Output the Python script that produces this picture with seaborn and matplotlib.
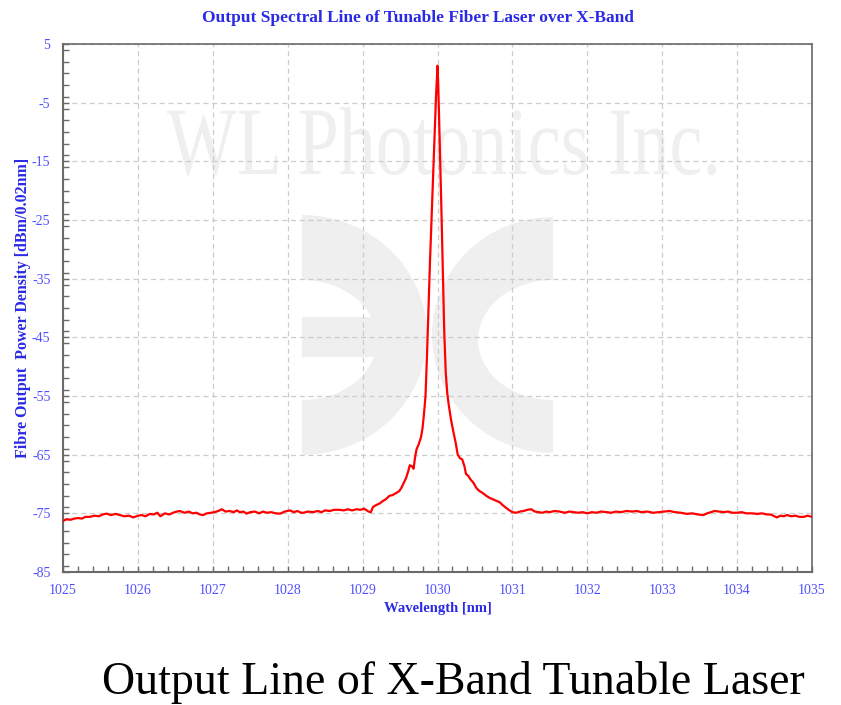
import matplotlib
matplotlib.use("Agg")
import matplotlib.pyplot as plt
import matplotlib.patches as mpatches
from matplotlib.ticker import MultipleLocator
from matplotlib.textpath import TextPath
from matplotlib.font_manager import FontProperties
from matplotlib.transforms import Affine2D, IdentityTransform
import seaborn as sns
import pandas as pd

# ---- data ----
wavelength_nm = [
    1025.00, 1025.05, 1025.10, 1025.15, 1025.20, 1025.25, 1025.30, 1025.36, 1025.42, 1025.48,
    1025.53, 1025.58, 1025.64, 1025.70, 1025.76, 1025.82, 1025.88, 1025.94, 1026.00, 1026.05,
    1026.10, 1026.16, 1026.21, 1026.26, 1026.30, 1026.36, 1026.42, 1026.47, 1026.52, 1026.56,
    1026.62, 1026.68, 1026.73, 1026.78, 1026.83, 1026.87, 1026.92, 1026.98, 1027.05, 1027.09,
    1027.12, 1027.17, 1027.22, 1027.28, 1027.32, 1027.36, 1027.41, 1027.45, 1027.50, 1027.56,
    1027.62, 1027.67, 1027.72, 1027.78, 1027.84, 1027.90, 1027.96, 1028.03, 1028.08, 1028.13,
    1028.18, 1028.21, 1028.27, 1028.34, 1028.40, 1028.45, 1028.50, 1028.56, 1028.62, 1028.69,
    1028.75, 1028.80, 1028.86, 1028.92, 1028.97, 1029.02, 1029.08, 1029.11, 1029.14, 1029.18,
    1029.23, 1029.27, 1029.31, 1029.36, 1029.40, 1029.44, 1029.49, 1029.52, 1029.55, 1029.58,
    1029.61, 1029.63, 1029.66, 1029.68, 1029.70, 1029.72, 1029.75, 1029.78, 1029.80, 1029.82,
    1029.84, 1029.86, 1029.88, 1029.90, 1029.92, 1029.94, 1029.96, 1029.98, 1030.00, 1030.01,
    1030.03, 1030.05, 1030.07, 1030.09, 1030.11, 1030.13, 1030.15, 1030.18, 1030.21, 1030.24,
    1030.27, 1030.30, 1030.33, 1030.36, 1030.38, 1030.41, 1030.44, 1030.48, 1030.52, 1030.56,
    1030.60, 1030.65, 1030.70, 1030.74, 1030.79, 1030.83, 1030.87, 1030.91, 1030.95, 1031.00,
    1031.05, 1031.10, 1031.15, 1031.20, 1031.25, 1031.30, 1031.35, 1031.40, 1031.45, 1031.50,
    1031.56, 1031.63, 1031.70, 1031.76, 1031.82, 1031.88, 1031.94, 1032.00, 1032.06, 1032.12,
    1032.18, 1032.26, 1032.32, 1032.38, 1032.45, 1032.52, 1032.60, 1032.66, 1032.72, 1032.80,
    1032.88, 1032.95, 1033.02, 1033.10, 1033.17, 1033.25, 1033.33, 1033.40, 1033.48, 1033.55,
    1033.60, 1033.65, 1033.70, 1033.76, 1033.82, 1033.88, 1033.94, 1034.00, 1034.06, 1034.12,
    1034.20, 1034.27, 1034.33, 1034.40, 1034.45, 1034.50, 1034.53, 1034.58, 1034.62, 1034.67,
    1034.72, 1034.78, 1034.83, 1034.89, 1034.94, 1035.00,
]
power_dbm = [
    -76.3, -76.0, -76.1, -75.9, -75.8, -75.9, -75.6, -75.6, -75.4, -75.5,
    -75.2, -75.05, -75.3, -75.1, -75.3, -75.5, -75.4, -75.7, -75.4, -75.3,
    -75.5, -75.1, -75.2, -74.9, -75.5, -75.0, -75.2, -74.9, -74.7, -74.6,
    -74.9, -74.7, -75.0, -74.9, -75.2, -75.3, -75.0, -74.9, -74.7, -74.5,
    -74.3, -74.7, -74.6, -74.8, -74.5, -74.8, -74.7, -75.05, -74.8, -74.7,
    -75.0, -74.7, -74.9, -74.8, -75.0, -75.05, -74.7, -74.5, -74.8, -74.6,
    -74.9, -74.9, -74.7, -74.8, -74.6, -74.8, -74.5, -74.6, -74.4, -74.4,
    -74.5, -74.3, -74.5, -74.3, -74.4, -74.2, -74.7, -74.8, -73.9, -73.6,
    -73.3, -72.9, -72.6, -72.0, -71.9, -71.6, -71.2, -70.6, -69.8, -69.0,
    -67.8, -66.8, -67.0, -67.4, -65.5, -64.1, -63.2, -62.0, -60.5, -58.0,
    -55.0, -48.0, -40.0, -32.0, -25.0, -18.0, -11.0, -4.0, 1.3, -2.0,
    -12.0, -22.0, -33.0, -44.0, -51.0, -54.5, -56.5, -59.0, -61.0, -62.8,
    -65.0, -65.6, -65.8, -67.0, -68.3, -68.6, -69.2, -69.8, -70.7, -71.2,
    -71.5, -72.0, -72.4, -72.6, -72.9, -73.1, -73.6, -74.0, -74.4, -74.8,
    -74.9, -74.7, -74.6, -74.4, -74.3, -74.7, -74.8, -74.9, -74.7, -74.8,
    -74.6, -74.7, -74.9, -74.7, -74.8, -74.9, -74.8, -75.0, -74.8, -74.9,
    -74.7, -74.8, -74.9, -74.7, -74.8, -74.6, -74.7, -74.6, -74.8, -74.7,
    -74.9, -74.8, -74.7, -74.6, -74.8, -74.9, -75.1, -75.0, -75.2, -75.3,
    -75.0, -74.8, -74.6, -74.7, -74.8, -74.7, -74.9, -74.9, -74.8, -75.0,
    -75.0, -75.1, -75.0, -75.2, -75.2, -75.5, -75.7, -75.4, -75.5, -75.3,
    -75.5, -75.4, -75.6, -75.6, -75.4, -75.6,
]
x_ticks = [1025, 1026, 1027, 1028, 1029, 1030, 1031, 1032, 1033, 1034, 1035]
y_ticks = [5, -5, -15, -25, -35, -45, -55, -65, -75, -85]

title = "Output Spectral Line of Tunable Fiber Laser over X-Band"
x_label = "Wavelength [nm]"
y_label = "Fibre Output  Power Density [dBm/0.02nm]"
caption = "Output Line of X-Band Tunable Laser"
watermark = "WL Photonics Inc."

df = pd.DataFrame({"wavelength": wavelength_nm, "power": power_dbm})

sns.set_theme(style="white")
plt.rcParams["font.family"] = ["Liberation Serif", "DejaVu Serif"]
plt.rcParams["axes.unicode_minus"] = False

W, H = 841, 705
fig = plt.figure(figsize=(W / 100, H / 100), dpi=100)
ax = fig.add_axes([63 / W, 1 - 572 / H, (812 - 63) / W, (572 - 44) / H])
ax.set_facecolor("white")

sns.lineplot(data=df, x="wavelength", y="power", ax=ax, color="#ff0000",
             linewidth=1.6, zorder=3)

ax.set_xlim(1025, 1035)
ax.set_ylim(-85, 5)
ax.set_xticks(x_ticks)
ax.set_yticks(y_ticks)
ax.xaxis.set_minor_locator(MultipleLocator(0.2))
ax.yaxis.set_minor_locator(MultipleLocator(2))
tick_color = "#5050ff"
ax.tick_params(axis="both", which="both", direction="in", color="#6a6a6a",
               labelcolor=tick_color, labelsize=10, pad=9, length=4, width=1,
               bottom=True, left=True, top=False, right=False)

ax.set_axisbelow(True)
ax.grid(True, which="major", color="#cccccc", linestyle=(0, (4, 3)), linewidth=0.9)

for side, sp in ax.spines.items():
    sp.set_visible(True)
    sp.set_color("#6a6a6a")
    sp.set_linewidth(1.5 if side in ("left", "bottom") else 1.2)

ax.set_xlabel(x_label, color="#2a2ae6", fontsize=10.5, fontweight="bold", labelpad=3)
ax.set_ylabel(y_label, color="#2a2ae6", fontsize=11.5, fontweight="bold", labelpad=1)
fig.text(418 / W, 1 - 18 / H, title, color="#2a2ae6", fontsize=12.5,
         fontweight="bold", ha="center", va="center")

# ---- watermark ----
wm = "#efefef"
def px2x(px):
    return 1025 + (px - 63) / 74.9
def px2y(py):
    return 5 - (py - 44) / 5.867
sx = 1 / 74.9
sy = 1 / 5.867

tp = TextPath((0, 0), watermark, size=100, prop=FontProperties(family="Liberation Serif"))
bb = tp.get_extents()
tx0, tx1, ty_base, ty_top = 167, 716, H - 174, H - 107
tr = (Affine2D().translate(-bb.x0, 0)
      .scale((tx1 - tx0) / bb.width, (ty_top - ty_base) / bb.y1)
      .translate(tx0, ty_base))
ax.add_patch(mpatches.PathPatch(tr.transform_path(tp), facecolor=wm, edgecolor="none",
                                transform=IdentityTransform(), zorder=0.3))

# left logo piece
ax.add_patch(mpatches.Ellipse((px2x(302), px2y(335)), 250 * sx, 240 * sy,
                              facecolor=wm, edgecolor="none", zorder=0.1))
ax.add_patch(mpatches.Ellipse((px2x(302), px2y(340)), 150 * sx, 120 * sy,
                              facecolor="white", edgecolor="none", zorder=0.15))
ax.add_patch(mpatches.Rectangle((px2x(170), px2y(460)), 132 * sx, 250 * sy,
                                facecolor="white", edgecolor="none", zorder=0.2))
ax.add_patch(mpatches.Rectangle((px2x(302), px2y(357)), 80 * sx, 40 * sy,
                                facecolor=wm, edgecolor="none", zorder=0.25))
# right logo piece
ax.add_patch(mpatches.Ellipse((px2x(553), px2y(335)), 242 * sx, 236 * sy,
                              facecolor=wm, edgecolor="none", zorder=0.1))
ax.add_patch(mpatches.Ellipse((px2x(553), px2y(340)), 150 * sx, 120 * sy,
                              facecolor="white", edgecolor="none", zorder=0.15))
ax.add_patch(mpatches.Rectangle((px2x(553), px2y(460)), 130 * sx, 250 * sy,
                                facecolor="white", edgecolor="none", zorder=0.2))

fig.text(453 / W, 1 - 694 / H, caption, color="black", fontsize=33, ha="center",
         va="baseline")

fig.savefig("out.png", dpi=100, facecolor="white")
